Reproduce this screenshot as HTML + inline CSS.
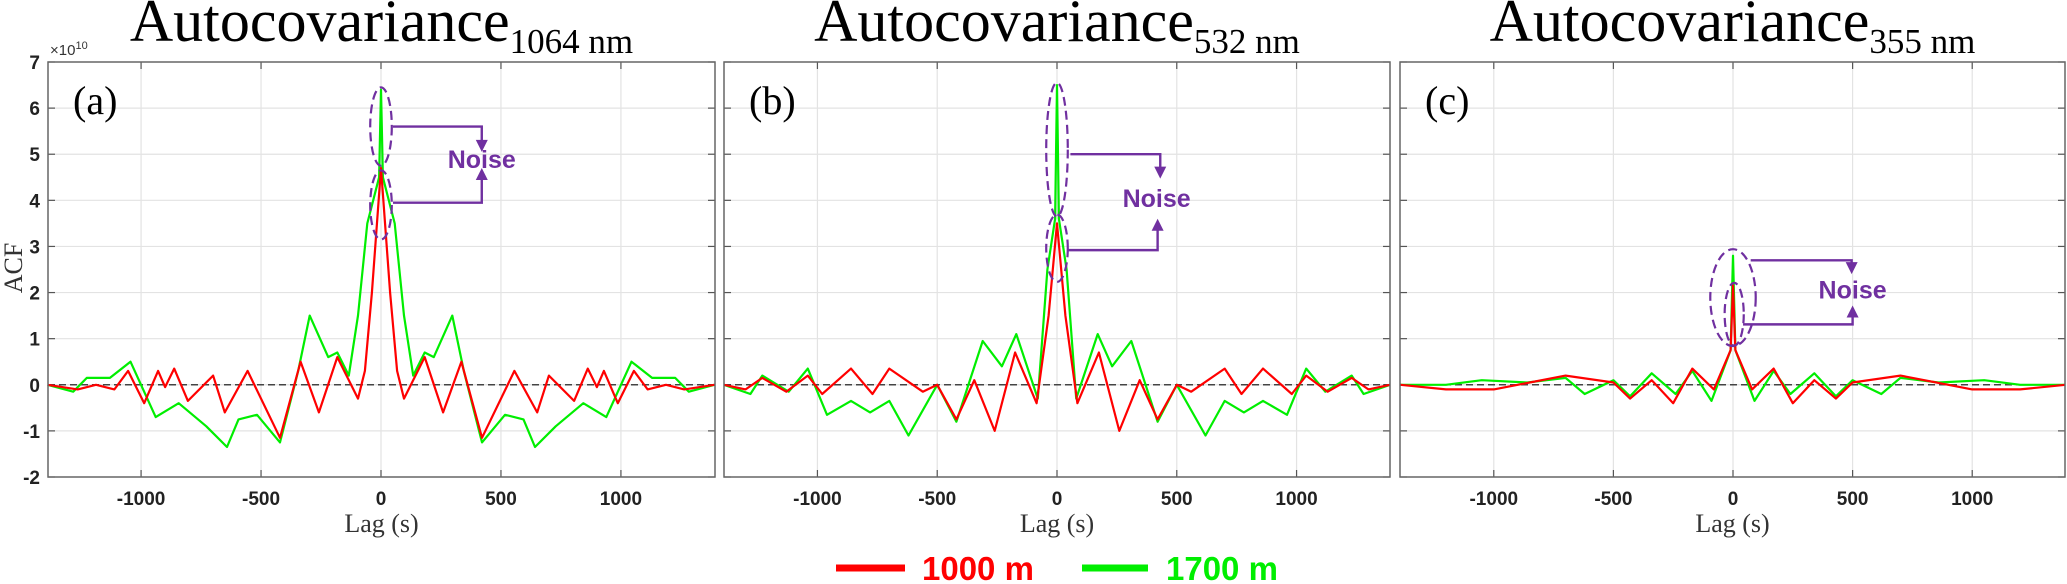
<!DOCTYPE html>
<html><head><meta charset="utf-8">
<style>
html,body{margin:0;padding:0;background:#fff;}
svg{display:block;}
</style></head>
<body>
<svg id="chart" width="2067" height="584" viewBox="0 0 2067 584" xmlns="http://www.w3.org/2000/svg"></svg>
<script>
// ---- data (values in units of 1e10) ----
const xTicks = [-1000, -500, 0, 500, 1000];
const yTicks = [-2, -1, 0, 1, 2, 3, 4, 5, 6, 7];
const panelLabels = ["(a)", "(b)", "(c)"];
const titleSubs = ["1064 nm", "532 nm", "355 nm"];

const lagA_red = [-1390,-1264,-1188,-1111,-1054,-987,-929,-900,-862,-805,-700,-651,-556,-421,-335,-259,-182,-96,-67,-38,0,38,67,96,182,259,335,421,556,651,700,805,862,900,929,987,1054,1111,1188,1264,1390];
const valA_red = [0,-0.1,0,-0.1,0.3,-0.4,0.3,-0.05,0.35,-0.35,0.2,-0.6,0.3,-1.15,0.5,-0.6,0.6,-0.3,0.3,2.0,4.7,2.0,0.3,-0.3,0.6,-0.6,0.5,-1.15,0.3,-0.6,0.2,-0.35,0.35,-0.05,0.3,-0.4,0.3,-0.1,0,-0.1,0];
const lagA_green = [-1390,-1283,-1226,-1130,-1044,-939,-843,-728,-642,-594,-517,-421,-345,-297,-220,-182,-134,-96,-57,-8,0,8,57,96,134,182,220,297,345,421,517,594,642,728,843,939,1044,1130,1226,1283,1390];
const valA_green = [0,-0.15,0.15,0.15,0.5,-0.7,-0.4,-0.9,-1.35,-0.75,-0.65,-1.25,0.3,1.5,0.6,0.7,0.2,1.5,3.5,4.5,6.4,4.5,3.5,1.5,0.2,0.7,0.6,1.5,0.3,-1.25,-0.65,-0.75,-1.35,-0.9,-0.4,-0.7,0.5,0.15,0.15,-0.15,0];

const lagB_red = [-1390,-1300,-1230,-1130,-1040,-980,-860,-770,-700,-560,-500,-420,-345,-260,-175,-85,-35,0,35,85,175,260,345,420,500,560,700,770,860,980,1040,1130,1230,1300,1390];
const valB_red = [0,-0.1,0.15,-0.15,0.2,-0.2,0.35,-0.2,0.35,-0.15,0,-0.75,0.1,-1.0,0.7,-0.4,1.5,3.5,1.5,-0.4,0.7,-1.0,0.1,-0.75,0,-0.15,0.35,-0.2,0.35,-0.2,0.2,-0.15,0.15,-0.1,0];
const lagB_green = [-1390,-1280,-1230,-1120,-1040,-960,-860,-780,-700,-620,-500,-420,-310,-230,-170,-80,-40,-8,0,8,40,80,170,230,310,420,500,620,700,780,860,960,1040,1120,1230,1280,1390];
const valB_green = [0,-0.2,0.2,-0.15,0.35,-0.65,-0.35,-0.6,-0.35,-1.1,0,-0.8,0.95,0.4,1.1,-0.3,2.5,3.6,6.5,3.6,2.5,-0.3,1.1,0.4,0.95,-0.8,0,-1.1,-0.35,-0.6,-0.35,-0.65,0.35,-0.15,0.2,-0.2,0];

const lagC_red = [-1390,-1200,-1000,-900,-700,-500,-430,-340,-250,-170,-80,-10,0,10,80,170,250,340,430,500,700,900,1000,1200,1390];
const valC_red = [0,-0.1,-0.1,0,0.2,0.05,-0.3,0.1,-0.4,0.35,-0.1,0.75,2.15,0.75,-0.1,0.35,-0.4,0.1,-0.3,0.05,0.2,0,-0.1,-0.1,0];
const lagC_green = [-1390,-1200,-1050,-860,-700,-620,-500,-430,-340,-240,-170,-90,-10,0,10,90,170,240,340,430,500,620,700,860,1050,1200,1390];
const valC_green = [0,0,0.1,0.05,0.15,-0.2,0.1,-0.25,0.25,-0.2,0.3,-0.35,0.75,2.8,0.75,-0.35,0.3,-0.2,0.25,-0.25,0.1,-0.2,0.15,0.05,0.1,0,0];

// annotation positions in data coords
const noiseA = {up:{c:[0,5.6],rx:45,ry:0.85}, lo:{c:[0,3.9],rx:45,ry:0.75}, arrUp:[50,5.6,420,5.05], arrLo:[50,3.95,420,4.7], text:[420,4.9]};
const noiseB = {up:{c:[0,5.1],rx:45,ry:1.45}, lo:{c:[0,2.96],rx:45,ry:0.73}, arrUp:[56,5.0,431,4.47], arrLo:[45,2.92,420,3.6], text:[416,4.05]};
const noiseC = {up:{c:[0,1.89],rx:95,ry:1.05}, lo:{c:[5,1.53],rx:40,ry:0.68}, arrUp:[74,2.7,496,2.4], arrLo:[42,1.31,500,1.72], text:[500,2.07]};

const panels = [
  {x0:48, x1:715, z:381, red:[lagA_red,valA_red], green:[lagA_green,valA_green], n:noiseA, yl:true},
  {x0:724, x1:1390, z:1057, red:[lagB_red,valB_red], green:[lagB_green,valB_green], n:noiseB, yl:false},
  {x0:1400, x1:2065, z:1733, red:[lagC_red,valC_red], green:[lagC_green,valC_green], n:noiseC, yl:false}
];
const yTop=62, yBot=477, yMin=-2, yMax=7;
const yS = v => yBot - (v - yMin)/(yMax - yMin)*(yBot - yTop);
const NS="http://www.w3.org/2000/svg";
const svg=document.getElementById('chart');
function el(tag, attrs, parent){const e=document.createElementNS(NS,tag);for(const k in attrs)e.setAttribute(k,attrs[k]);(parent||svg).appendChild(e);return e;}
const purple="#7030a0";

panels.forEach((p,i)=>{
  const xS = l => p.z + (l/1390)*((p.x1-p.x0)/2);
  const g=el('g',{});
  
  
  xTicks.forEach(t=>{const l=el('line',{x1:xS(t),x2:xS(t),y1:yTop,y2:yBot,stroke:'#e3e3e3','stroke-width':1.2},g);
    
    el('line',{x1:xS(t),x2:xS(t),y1:yBot,y2:yBot-7,stroke:'#555','stroke-width':1.2},g);
    el('line',{x1:xS(t),x2:xS(t),y1:yTop,y2:yTop+7,stroke:'#555','stroke-width':1.2},g);
    const tx=el('text',{x:xS(t),y:505,'text-anchor':'middle','font-family':'Liberation Sans, sans-serif','font-weight':'bold','font-size':19,fill:'#222'},g);
    tx.textContent=t;  
  });
  yTicks.forEach(t=>{
    if(t!==yMin&&t!==yMax){const l=el('line',{x1:p.x0,x2:p.x1,y1:yS(t),y2:yS(t),stroke:'#e3e3e3','stroke-width':1.2},g);
      }
    el('line',{x1:p.x0,x2:p.x0+7,y1:yS(t),y2:yS(t),stroke:'#555','stroke-width':1.2},g);
    el('line',{x1:p.x1,x2:p.x1-7,y1:yS(t),y2:yS(t),stroke:'#555','stroke-width':1.2},g);
    if(p.yl){const tx=el('text',{x:40,y:yS(t)+7,'text-anchor':'end','font-family':'Liberation Sans, sans-serif','font-weight':'bold','font-size':19,fill:'#222'},g);
      tx.textContent=t;  }
  });
  const zl=el('line',{x1:p.x0,x2:p.x1,y1:yS(0),y2:yS(0),stroke:'#444','stroke-width':1.5,'stroke-dasharray':'7,4'},g);
  
  [['green','#00ee00','series-1700m'],['red','#ff0000','series-1000m']].forEach(([k,c,nm])=>{
    const [ls,vs]=p[k];
    const d=ls.map((l,j)=>(j?'L':'M')+xS(l).toFixed(1)+','+yS(vs[j]).toFixed(1)).join('');
    const path=el('path',{d:d,fill:'none',stroke:c,'stroke-width':2.2,'stroke-linejoin':'round'},g);
    
  });
  const bx=el('rect',{x:p.x0,y:yTop,width:p.x1-p.x0,height:yBot-yTop,fill:'none',stroke:'#666','stroke-width':1.5},g);
  
  const n=p.n, pxPerS=(p.x1-p.x0)/2/1390, pxPerU=(yBot-yTop)/(yMax-yMin);
  [n.up,n.lo].forEach(e=>{const ee=el('ellipse',{cx:xS(e.c[0]),cy:yS(e.c[1]),rx:e.rx*pxPerS,ry:e.ry*pxPerU,fill:'none',stroke:purple,'stroke-width':2.2,'stroke-dasharray':'9,5'},g);
    });
  [[n.arrUp,1],[n.arrLo,-1]].forEach(([a,dir])=>{
    const x1=xS(a[0]),y1=yS(a[1]),x2=xS(a[2]),y2=yS(a[3]);
    const pl=el('polyline',{points:`${x1},${y1} ${x2},${y1} ${x2},${y2-dir*10}`,fill:'none',stroke:purple,'stroke-width':2.4},g);
    
    el('polygon',{points:`${x2-6},${y2-dir*12} ${x2+6},${y2-dir*12} ${x2},${y2}`,fill:purple},g);
  });
  const nt=el('text',{x:xS(n.text[0]),y:yS(n.text[1])+9,'text-anchor':'middle','font-family':'Liberation Sans, sans-serif','font-weight':'bold','font-size':25,fill:purple},g);
  nt.textContent='Noise';
  const pl=el('text',{x:p.x0+25,y:114,'font-family':'Liberation Serif, serif','font-size':40,fill:'#000'},g);
  pl.textContent=panelLabels[i];
  const ti=el('text',{x:(p.x0+p.x1)/2,y:41,'text-anchor':'middle','font-family':'Liberation Serif, serif','font-size':60,fill:'#000'},g);
  
  const t1=el('tspan',{},ti);t1.textContent='Autocovariance';
  const t2=el('tspan',{'font-size':35,dy:12},ti);t2.textContent=titleSubs[i];
  const xl=el('text',{x:(p.x0+p.x1)/2,y:532,'text-anchor':'middle','font-family':'Liberation Serif, serif','font-size':26,fill:'#333'},g);
  xl.textContent='Lag (s)';
});
const yl=el('text',{x:0,y:0,transform:'translate(22,268) rotate(-90)','text-anchor':'middle','font-family':'Liberation Serif, serif','font-size':26,fill:'#333'});
yl.textContent='ACF';
const ex=el('text',{x:50,y:55,'font-family':'Liberation Sans, sans-serif','font-size':15,fill:'#333'});

const e1=el('tspan',{},ex);e1.textContent='×10';
const e2=el('tspan',{dy:-6,'font-size':11},ex);e2.textContent='10';
const lg=el('g',{});

el('line',{x1:836,x2:905,y1:568,y2:568,stroke:'#ff0000','stroke-width':7},lg);
const l1=el('text',{x:922,y:580,'font-family':'Liberation Sans, sans-serif','font-weight':'bold','font-size':33,fill:'#ff0000'},lg);
l1.textContent='1000 m';
el('line',{x1:1082,x2:1148,y1:568,y2:568,stroke:'#00ee00','stroke-width':7},lg);
const l2=el('text',{x:1166,y:580,'font-family':'Liberation Sans, sans-serif','font-weight':'bold','font-size':33,fill:'#00ee00'},lg);
l2.textContent='1700 m';
</script>
</body></html>
